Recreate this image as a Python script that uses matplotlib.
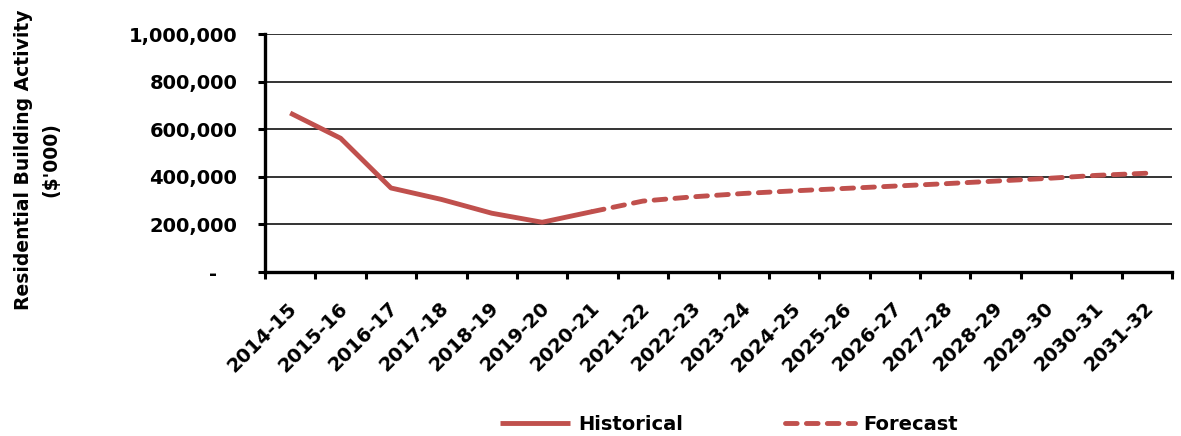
import numpy as np
import matplotlib.pyplot as plt
from matplotlib.ticker import FuncFormatter, FixedLocator
from matplotlib.transforms import ScaledTranslation

years = ["2014-15", "2015-16", "2016-17", "2017-18", "2018-19", "2019-20",
         "2020-21", "2021-22", "2022-23", "2023-24", "2024-25", "2025-26",
         "2026-27", "2027-28", "2028-29", "2029-30", "2030-31", "2031-32"]
historical = [668000, 562000, 353000, 305000, 247000, 209000, 254000]
forecast = [298000, 316000, 330000, 341000, 351000, 361000, 371000,
            382000, 393000, 406000, 415000]

RED = "#C0504D"
FS = 14
plt.rcParams["font.family"] = "DejaVu Sans"
plt.rcParams["font.weight"] = "bold"

fig = plt.figure(figsize=(11.81, 4.36), dpi=100)
ax = fig.add_axes([265 / 1181, 1 - 272 / 436, (1172 - 265) / 1181, (272 - 34) / 436])

x_hist = np.arange(len(historical))
# forecast continues on from the last historical year
x_fc = np.arange(len(historical) - 1, len(historical) + len(forecast))
y_fc = [historical[-1]] + forecast

ax.plot(x_hist, historical, color=RED, lw=3.5, solid_capstyle="butt",
        solid_joinstyle="round", label="Historical")
ax.plot(x_fc, y_fc, color=RED, lw=3.5, dashes=(2.4, 1.9),
        dash_capstyle="round", label="Forecast")

ax.set_xlim(-0.5, len(years) - 0.5)
ax.set_ylim(0, 1000000)
ax.set_yticks(np.arange(0, 1000001, 200000))
ax.yaxis.set_major_formatter(FuncFormatter(
    lambda v, p: "-   " if v == 0 else f"{int(v):,}"))
ax.yaxis.grid(True, color="#333333", lw=1.4)
ax.set_axisbelow(True)

# category boundaries carry the tick marks, centres carry the labels
ax.xaxis.set_major_locator(FixedLocator(np.arange(-0.5, len(years), 1.0)))
ax.xaxis.set_major_formatter(FuncFormatter(lambda v, p: ""))
ax.xaxis.set_minor_locator(FixedLocator(np.arange(len(years))))
ax.set_xticklabels(years, minor=True)
ax.tick_params(axis="x", which="minor", length=0, pad=24, labelsize=FS)
ax.tick_params(axis="x", which="major", length=5, width=2.2, direction="out")
ax.tick_params(axis="y", length=5, width=2.2, direction="out", pad=15, labelsize=FS)

shift = ScaledTranslation(3 / 72, 0, fig.dpi_scale_trans)
for lbl in ax.get_xticklabels(minor=True):
    lbl.set_rotation(45)
    lbl.set_rotation_mode("anchor")
    lbl.set_ha("right")
    lbl.set_va("center")
    lbl.set_transform(lbl.get_transform() + shift)

for s in ["top", "right"]:
    ax.spines[s].set_visible(False)
for s in ["left", "bottom"]:
    ax.spines[s].set_linewidth(2.4)
    ax.spines[s].set_color("black")

fig.text(37 / 1181, 1 - 160 / 436, "Residential Building Activity\n($'000)",
         rotation=90, ha="center", va="center", multialignment="center",
         fontsize=13.5, fontweight="bold", linespacing=1.55)

fig.legend(loc="center", bbox_to_anchor=(729 / 1181, 1 - 424 / 436), ncol=2,
           frameon=False, fontsize=FS, handlelength=3.6, handletextpad=0.45,
           columnspacing=5.2)

fig.savefig("out.png", dpi=100)
